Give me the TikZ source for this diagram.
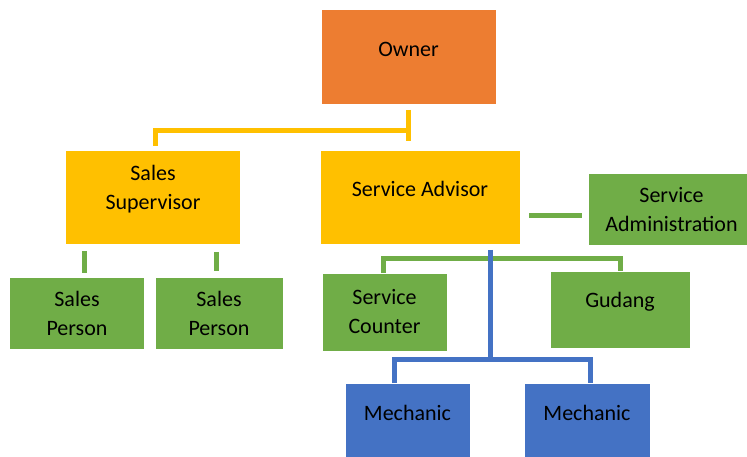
\documentclass[tikz,border=0pt]{standalone}
\usepackage{fontspec}
\setmainfont{Carlito}
\begin{document}
\begin{tikzpicture}[x=1pt,y=-1pt,
  orgbox/.style={draw=white,line width=0.6pt,inner sep=0pt},
  lbl/.style={font=\fontsize{22}{29}\selectfont,align=center,text=black},
  ylink/.style={draw={rgb,255:red,255;green,192;blue,0},line width=5pt},
  glink/.style={draw={rgb,255:red,112;green,173;blue,71},line width=5pt},
  blink/.style={draw={rgb,255:red,68;green,114;blue,196},line width=5pt}]
\definecolor{cOrange}{RGB}{237,125,49}
\definecolor{cYellow}{RGB}{255,192,0}
\definecolor{cGreen}{RGB}{112,173,71}
\definecolor{cBlue}{RGB}{68,114,196}
\useasboundingbox (0,0) rectangle (747,457);

% boxes
\node[orgbox,fill=cOrange,minimum width=175pt,minimum height=95pt] (owner) at (408.5,56.5) {};
\node[orgbox,fill=cYellow,minimum width=175pt,minimum height=94pt] (supervisor) at (153,197) {};
\node[orgbox,fill=cYellow,minimum width=200pt,minimum height=94pt] (advisor) at (420,197) {};
\node[orgbox,fill=cGreen,minimum width=159pt,minimum height=72pt] (admin) at (667.5,209) {};
\node[orgbox,fill=cGreen,minimum width=135pt,minimum height=72pt] (sp1) at (77,313) {};
\node[orgbox,fill=cGreen,minimum width=128pt,minimum height=72pt] (sp2) at (219,313) {};
\node[orgbox,fill=cGreen,minimum width=125pt,minimum height=78pt] (counter) at (384.5,312) {};
\node[orgbox,fill=cGreen,minimum width=140pt,minimum height=77pt] (gudang) at (620,309.5) {};
\node[orgbox,fill=cBlue,minimum width=125pt,minimum height=74pt] (mech1) at (407.5,420) {};
\node[orgbox,fill=cBlue,minimum width=126pt,minimum height=74pt] (mech2) at (587,420) {};

% labels
\node[lbl] (tOwner) at ([yshift=7pt]owner.center) {Owner};
\node[lbl] (tSupervisor) at ([yshift=8pt]supervisor.center) {Sales\\Supervisor};
\node[lbl] (tAdvisor) at ([yshift=8pt]advisor.center) {Service Advisor};
\node[lbl] (tAdmin) at ([xshift=4pt,yshift=-1pt]admin.center) {Service\\Administration};
\node[lbl] (tSp1) at (sp1.center) {Sales\\Person};
\node[lbl] (tSp2) at (sp2.center) {Sales\\Person};
\node[lbl] (tCounter) at (counter.center) {Service\\Counter};
\node[lbl] (tGudang) at ([yshift=8pt]gudang.center) {Gudang};
\node[lbl] (tMech1) at ([yshift=7pt]mech1.center) {Mechanic};
\node[lbl] (tMech2) at ([yshift=7pt]mech2.center) {Mechanic};

% connector end points
\coordinate (oTop) at (408,110);
\coordinate (oBot) at (408,141);
\coordinate (oJoin) at (408,130.5);
\coordinate (sTop) at (155,146);
\coordinate (s1a) at (84.5,251);
\coordinate (s1b) at (84.5,273);
\coordinate (s2a) at (216.5,252);
\coordinate (s2b) at (216.5,271);
\coordinate (adA) at (529,215.5);
\coordinate (adB) at (582,215.5);
\coordinate (gBar) at (383.5,258.5);
\coordinate (cTop) at (383.5,273);
\coordinate (gTop) at (620.5,271);
\coordinate (bTop) at (490,250);
\coordinate (bBar) at (490,359.5);
\coordinate (m1Top) at (394.5,383);
\coordinate (m2Top) at (590.5,383);

% connectors
\draw[ylink] (oTop) -- (oBot);
\draw[ylink] (sTop) |- (oJoin);
\draw[glink] (s1a) -- (s1b);
\draw[glink] (s2a) -- (s2b);
\draw[glink] (adA) -- (adB);
\draw[glink] (cTop) -- (gBar) -| (gTop);
\draw[blink] (bTop) -- (bBar);
\draw[blink] (m1Top) |- (bBar) -| (m2Top);
\end{tikzpicture}
\end{document}
